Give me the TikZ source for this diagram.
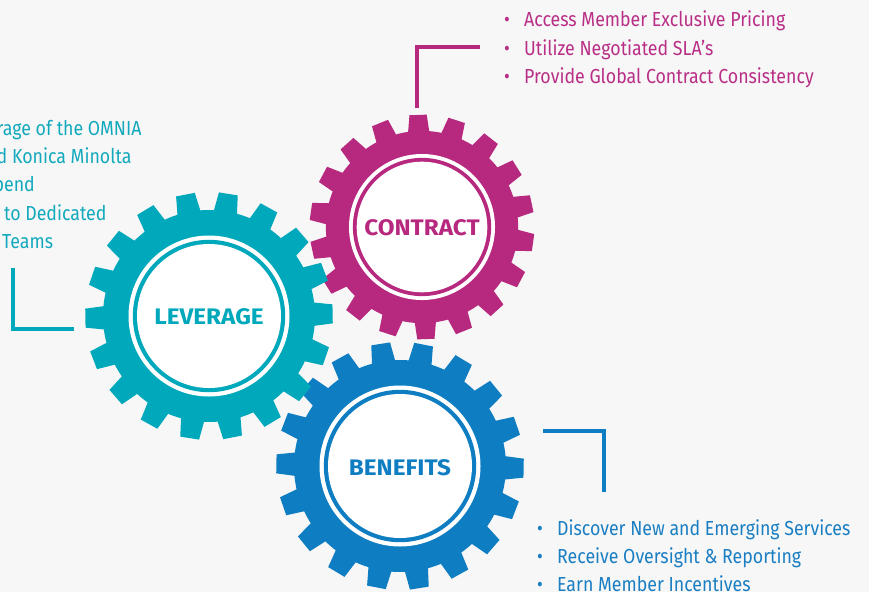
\documentclass[tikz,border=0pt]{standalone}
\usepackage{fontspec}
\setmainfont{Fira Sans}
\newfontfamily\listfont[FakeStretch=0.875]{Fira Sans}
\newfontfamily\labelfont[FakeStretch=1.08]{Fira Sans}
\definecolor{bg}{HTML}{F7F7F7}
\definecolor{cmag}{HTML}{B7287F}
\definecolor{cteal}{HTML}{00A8BB}
\definecolor{cblue}{HTML}{0F7DC2}
\definecolor{tmag}{HTML}{B92E86}
\definecolor{tteal}{HTML}{12A9BD}
\definecolor{tblue}{HTML}{1A7EC3}
\newcommand{\drawgear}[4]{%
  \begin{scope}[shift={#1},scale=#2]
    \fill[#4] ({#3-6.3}:106) \foreach \k in {0,...,17}{
      -- ({#3+20*\k-6.3}:106) -- ({#3+20*\k-4.4}:124) -- ({#3+20*\k+4.4}:124)
      -- ({#3+20*\k+6.3}:106) arc[start angle={#3+20*\k+6.3}, end angle={#3+20*\k+13.7}, radius=106]} -- cycle;
    \fill[white] (0,0) circle[radius=80.5];
    \fill[#4] (0,0) circle[radius=76.2];
    \fill[white] (0,0) circle[radius=72];
  \end{scope}}
\tikzset{
  lbl/.style={font=\labelfont\bfseries\fontsize{22.5}{24}\selectfont, inner sep=0pt},
  item/.style={font=\listfont\fontsize{20.3}{28}\selectfont, inner sep=0pt, anchor=base west},
  litem/.style={font=\listfont\fontsize{20.3}{28}\selectfont, inner sep=0pt, anchor=base east, text=tteal},
  conn/.style={line width=3.4pt, line cap=rect}
}
\begin{document}
\begin{tikzpicture}[x=1pt,y=-1pt]
\useasboundingbox (0,0) rectangle (869,592);
\fill[bg] (0,0) rectangle (869,592);
\clip (0,0) rectangle (869,592);
% gears
\drawgear{(422,227)}{0.907}{-12}{cmag}
\drawgear{(400,466)}{1}{1}{cblue}
\drawgear{(209,316)}{1}{-1}{cteal}
% labels
\node[lbl, text=cmag] (contract) at (422,227.5) {CONTRACT};
\node[lbl, text=cteal] (leverage) at (209,317) {LEVERAGE};
\node[lbl, text=cblue] (benefits) at (400,467.5) {BENEFITS};
% contract list
\node[item, text=tmag] (c1) at (504,26.7) {\makebox[20pt][l]{•}Access Member Exclusive Pricing};
\node[item, text=tmag] (c2) at (504,55) {\makebox[20pt][l]{•}Utilize Negotiated SLA’s};
\node[item, text=tmag] (c3) at (504,83.3) {\makebox[20pt][l]{•}Provide Global Contract Consistency};
% benefits list
\node[item, text=tblue] (b1) at (537,535) {\makebox[20pt][l]{•}Discover New and Emerging Services};
\node[item, text=tblue] (b2) at (537,563.3) {\makebox[20pt][l]{•}Receive Oversight \& Reporting};
\node[item, text=tblue] (b3) at (537,591.7) {\makebox[20pt][l]{•}Earn Member Incentives};
% leverage list (cut at left edge)
\node[litem] (l1) at (141.7,135) {rage of the OMNIA};
\node[litem] (l2) at (131.7,163.3) {d Konica Minolta};
\node[litem] (l3) at (35,191.7) {pend};
\node[litem] (l4) at (106.7,220) {s to Dedicated};
\node[litem] (l5) at (53.3,248.3) {Teams};
% connectors
\coordinate (ca) at (417,106);
\coordinate (cb) at (417,47);
\coordinate (cc) at (478,47);
\draw[conn, cmag] (ca) -- (cb) -- (cc);
\coordinate (la) at (13,270);
\coordinate (lb) at (13,329);
\coordinate (lc) at (72,329);
\draw[conn, cteal] (la) -- (lb) -- (lc);
\coordinate (ba) at (545,431);
\coordinate (bb) at (604,431);
\coordinate (bc) at (604,490);
\draw[conn, cblue] (ba) -- (bb) -- (bc);
\end{tikzpicture}
\end{document}
